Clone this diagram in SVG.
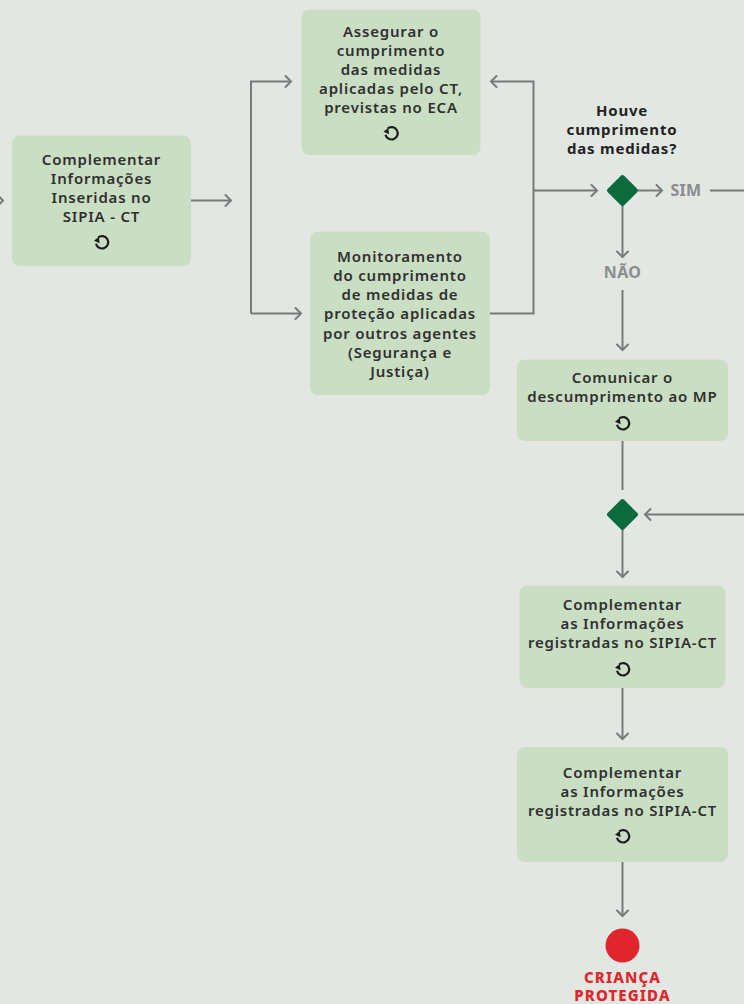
<svg xmlns="http://www.w3.org/2000/svg" xmlns:xlink="http://www.w3.org/1999/xlink" width="744" height="1004" viewBox="0 0 744 1004">
<style>
.box{fill:#cadec4}
text{font-family:"Noto Sans","Open Sans",sans-serif;text-anchor:middle}
.t{font-size:15px;font-weight:600;fill:#303030;letter-spacing:.8px}
.q{font-size:15px;font-weight:700;fill:#222;letter-spacing:.8px}
.l{font-size:16px;font-weight:700;fill:#8a8d8d;letter-spacing:.3px}
.r{font-size:15px;font-weight:800;fill:#e0252c;letter-spacing:1.100px}
.c{fill:none;stroke:#777a7a;stroke-width:2}
.h{fill:none;stroke:#777a7a;stroke-width:2;stroke-linecap:round}
.d{fill:#0c6b3c;stroke:#0c6b3c;stroke-width:4;stroke-linejoin:round}
.i{fill:none;stroke:#1d1d1d;stroke-width:2.200}
</style>
<defs>
<g id="loop"><path class="i" d="M-3.800,-4.600A6.200,6.200 0 1 1 -6,1.800"/><path d="M-8,-1.200L-3.200,-5.200L-2.400,1.200Z" fill="#1d1d1d"/></g>
<path id="ar" class="h" d="M-5.500,-5.500L0,0L-5.500,5.500"/>
</defs>
<rect width="744" height="1004" fill="#e2e7e2"/>
<g id="connectors">
<path class="c" d="M191,200.500H231M251,313.500V81.500H291M251,313.500H301M490,313.500H533.500V81.500H491M533.500,190.500H597M638,190.500H662M710,190.500H744M622.500,206V257M622.500,290V350M622.500,441V490M744,514.500H645M622.500,530V577M622.500,688V739M622.500,862V916"/>
<use href="#ar" x="3" y="200.500"/>
<use href="#ar" x="231" y="200.500"/>
<use href="#ar" x="291" y="81.500"/>
<use href="#ar" x="301" y="313.500"/>
<use href="#ar" transform="translate(491 81.500) rotate(180)"/>
<use href="#ar" x="597" y="190.500"/>
<use href="#ar" x="662" y="190.500"/>
<use href="#ar" transform="translate(622.500 257) rotate(90)"/>
<use href="#ar" transform="translate(622.500 350) rotate(90)"/>
<use href="#ar" transform="translate(645 514.500) rotate(180)"/>
<use href="#ar" transform="translate(622.500 577) rotate(90)"/>
<use href="#ar" transform="translate(622.500 739) rotate(90)"/>
<use href="#ar" transform="translate(622.500 916) rotate(90)"/>
</g>
<g id="n1"><rect class="box" x="12" y="135.500" width="179" height="130.500" rx="8"/>
<text class="t" y="165"><tspan x="101.500">Complementar</tspan><tspan x="101.500" dy="19">Informações</tspan><tspan x="101.500" dy="19">Inseridas no</tspan><tspan x="101.500" dy="19">SIPIA - CT</tspan></text><use href="#loop" x="102" y="242"/></g>
<g id="n2"><rect class="box" x="301.500" y="9.500" width="179" height="145.500" rx="8"/>
<text class="t" y="37"><tspan x="391">Assegurar o</tspan><tspan x="391" dy="19">cumprimento</tspan><tspan x="391" dy="19">das medidas</tspan><tspan x="391" dy="19">aplicadas pelo CT,</tspan><tspan x="391" dy="19">previstas no ECA</tspan></text><use href="#loop" x="391.500" y="133"/></g>
<g id="n3"><rect class="box" x="310" y="231.500" width="180" height="163.500" rx="8"/>
<text class="t" y="262"><tspan x="400">Monitoramento</tspan><tspan x="400" dy="19">do cumprimento</tspan><tspan x="400" dy="19">de medidas de</tspan><tspan x="400" dy="19">proteção aplicadas</tspan><tspan x="400" dy="20">por outros agentes</tspan><tspan x="400" dy="19">(Segurança e</tspan><tspan x="400" dy="19">Justiça)</tspan></text></g>
<g id="d1"><path class="d" d="M622.500,177L636,190.500L622.500,204L609,190.500Z"/>
<text class="q" y="116"><tspan x="622">Houve</tspan><tspan x="622" dy="19">cumprimento</tspan><tspan x="622" dy="19">das medidas?</tspan></text></g>
<text class="l" x="686" y="196">SIM</text>
<text class="l" x="622.500" y="278">NÃO</text>
<g id="n4"><rect class="box" x="517" y="359.500" width="211" height="81.500" rx="8"/>
<text class="t" y="383"><tspan x="622.500">Comunicar o</tspan><tspan x="622.500" dy="19">descumprimento ao MP</tspan></text><use href="#loop" x="623" y="423"/></g>
<g id="d2"><path class="d" d="M622.500,501L636,514.500L622.500,528L609,514.500Z"/></g>
<g id="n5"><rect class="box" x="519.500" y="585.500" width="206" height="102.500" rx="8"/>
<text class="t" y="610"><tspan x="622.500">Complementar</tspan><tspan x="622.500" dy="19">as Informações</tspan><tspan x="622.500" dy="19">registradas no SIPIA-CT</tspan></text><use href="#loop" x="623" y="669"/></g>
<g id="n6"><rect class="box" x="517" y="747" width="211" height="115" rx="8"/>
<text class="t" y="778"><tspan x="622.500">Complementar</tspan><tspan x="622.500" dy="19">as Informações</tspan><tspan x="622.500" dy="19">registradas no SIPIA-CT</tspan></text><use href="#loop" x="623" y="836"/></g>
<g id="end"><circle cx="622.500" cy="945.500" r="17" fill="#e0252c"/>
<text class="r" y="983"><tspan x="622.500">CRIANÇA</tspan><tspan x="622.500" dy="18">PROTEGIDA</tspan></text></g>
</svg>
